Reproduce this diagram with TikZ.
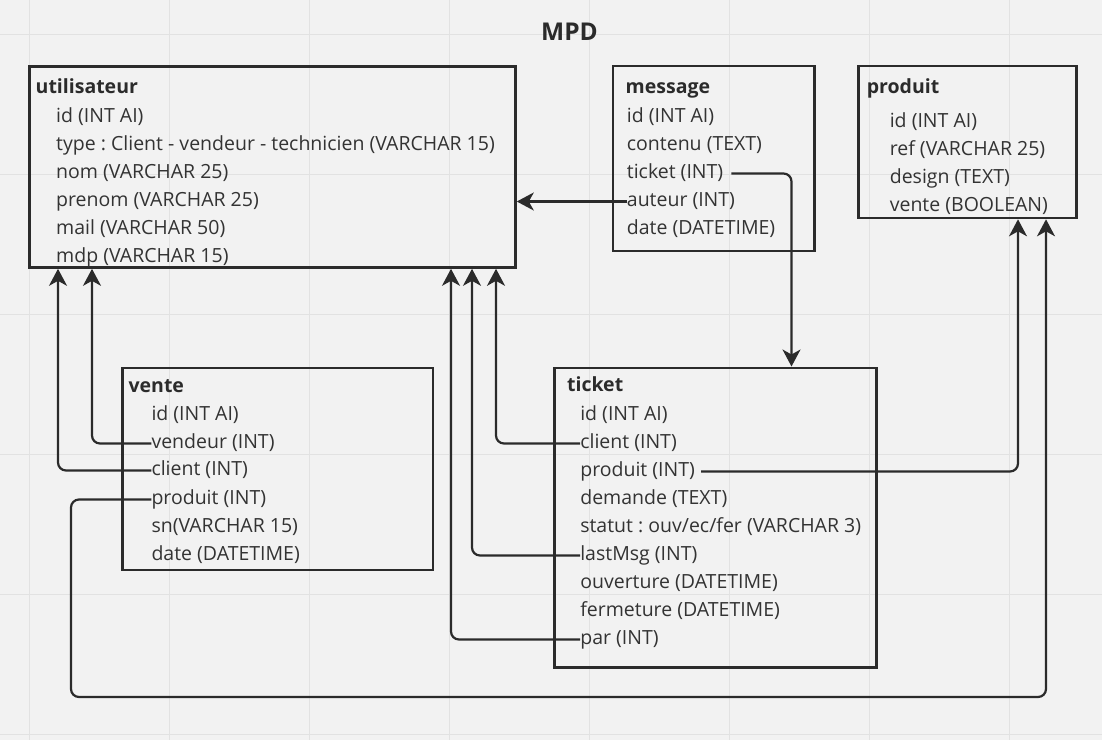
\documentclass[tikz,border=0pt]{standalone}
\usepackage{fontspec}
\setmainfont{Open Sans}
\usetikzlibrary{arrows.meta,calc}
\definecolor{bg}{HTML}{F2F2F2}
\definecolor{gridc}{HTML}{E2E2E2}
\definecolor{ink}{HTML}{2B2B2B}
\definecolor{txt}{HTML}{333333}
\frenchspacing
\begin{document}
\begin{tikzpicture}[x=1pt,y=-1pt,
  tbl/.style={draw=ink, line width=2.8pt, anchor=north west, inner sep=0pt},
  fld/.style={anchor=west, inner sep=0pt, text height=15pt, text depth=6pt, font=\fontsize{19.5}{23}\selectfont, text=txt},
  ttl/.style={fld, font=\bfseries\fontsize{19.5}{23}\selectfont, text=ink},
  conn/.style={draw=ink, line width=2.2pt, rounded corners=8pt},
  arr/.style={conn, -{Stealth[length=17pt,width=18pt,inset=5pt]}}]
% background and grid
\fill[bg] (0,0) rectangle (1102,740);
\useasboundingbox (0,0) rectangle (1102,740);
\foreach \gx in {29.5,169.5,309.5,449.5,589.5,729.5,869.5,1009.5}
  \draw[gridc, line width=1pt] (\gx,0) -- (\gx,740);
\foreach \gy in {34,174,314,454,594,734}
  \draw[gridc, line width=1pt] (0,\gy) -- (1102,\gy);

% title
\node[font=\bfseries\fontsize{24.5}{28}\selectfont, text=ink, inner sep=0pt] (mpd) at (569.5,32) {MPD};

% boxes
\node[tbl, minimum width=486pt, minimum height=201pt] (util) at (28,65) {};
\node[tbl, minimum width=201.5pt, minimum height=185pt] (message) at (611.5,64.5) {};
\node[tbl, minimum width=218pt, minimum height=152pt] (produit) at (857,64.5) {};
\node[tbl, minimum width=310.5pt, minimum height=202pt] (vente) at (121,366.5) {};
\node[tbl, minimum width=322pt, minimum height=299.5pt] (ticket) at (553,366.5) {};

% utilisateur
\node[ttl] (u-title) at (35.5,88.5) {utilisateur};
\node[fld] (u-id) at (56,117.5) {id (INT AI)};
\node[fld] (u-type) at (56,145.5) {type : Client - vendeur - technicien (VARCHAR 15)};
\node[fld] (u-nom) at (56,173.5) {nom (VARCHAR 25)};
\node[fld] (u-prenom) at (56,201.5) {prenom (VARCHAR 25)};
\node[fld] (u-mail) at (56,229.5) {mail (VARCHAR 50)};
\node[fld] (u-mdp) at (56,257.5) {mdp (VARCHAR 15)};

% message
\node[ttl] (m-title) at (625.5,88.5) {message};
\node[fld] (m-id) at (626.7,117.5) {id (INT AI)};
\node[fld] (m-contenu) at (626.7,145.5) {contenu (TEXT)};
\node[fld] (m-ticket) at (626.7,173.5) {ticket (INT)};
\node[fld] (m-auteur) at (626.7,201.5) {auteur (INT)};
\node[fld] (m-date) at (626.7,229.5) {date (DATETIME)};

% produit
\node[ttl] (p-title) at (866.6,88.5) {produit};
\node[fld] (p-id) at (889.6,122.5) {id (INT AI)};
\node[fld] (p-ref) at (889.6,150.5) {ref (VARCHAR 25)};
\node[fld] (p-design) at (889.6,178.5) {design (TEXT)};
\node[fld] (p-vente) at (889.6,206.5) {vente (BOOLEAN)};

% vente
\node[ttl] (v-title) at (128.4,387.5) {vente};
\node[fld] (v-id) at (151.3,415.5) {id (INT AI)};
\node[fld] (v-vendeur) at (151.3,443.5) {vendeur (INT)};
\node[fld] (v-client) at (151.3,470.5) {client (INT)};
\node[fld] (v-produit) at (151.3,499.5) {produit (INT)};
\node[fld] (v-sn) at (151.3,527.5) {sn(VARCHAR 15)};
\node[fld] (v-date) at (151.3,555.5) {date (DATETIME)};

% ticket
\node[ttl] (t-title) at (566.9,387) {ticket};
\node[fld] (t-id) at (580.1,415.5) {id (INT AI)};
\node[fld] (t-client) at (580.1,443.5) {client (INT)};
\node[fld] (t-produit) at (580.1,471.5) {produit (INT)};
\node[fld] (t-demande) at (580.1,499.5) {demande (TEXT)};
\node[fld] (t-statut) at (580.1,527.5) {statut : ouv/ec/fer (VARCHAR 3)};
\node[fld] (t-lastmsg) at (580.1,555.5) {lastMsg (INT)};
\node[fld] (t-ouverture) at (580.1,583.5) {ouverture (DATETIME)};
\node[fld] (t-fermeture) at (580.1,611.5) {fermeture (DATETIME)};
\node[fld] (t-par) at (580.1,639.5) {par (INT)};

% connectors
\coordinate (loopL) at (71,697);
\draw[arr] (m-auteur.west) -- (m-auteur.west -| util.east);
\draw[arr] ([xshift=8pt]m-ticket.east) -| ($(ticket.north west)+(238.5,0)$);
\draw[arr] (v-vendeur.west) -| ($(util.south west)+(64,0)$);
\draw[arr] (v-client.west) -| ($(util.south west)+(30,0)$);
\draw[arr] (v-produit.west) -| (loopL) -| ($(produit.south west)+(189,0)$);
\draw[arr] (t-client.west) -| ($(util.south west)+(468,0)$);
\draw[arr] (t-lastmsg.west) -| ($(util.south west)+(444,0)$);
\draw[arr] (t-par.west) -| ($(util.south west)+(423,0)$);
\draw[arr] ([xshift=6pt]t-produit.east) -| ($(produit.south west)+(161,0)$);
\end{tikzpicture}
\end{document}
